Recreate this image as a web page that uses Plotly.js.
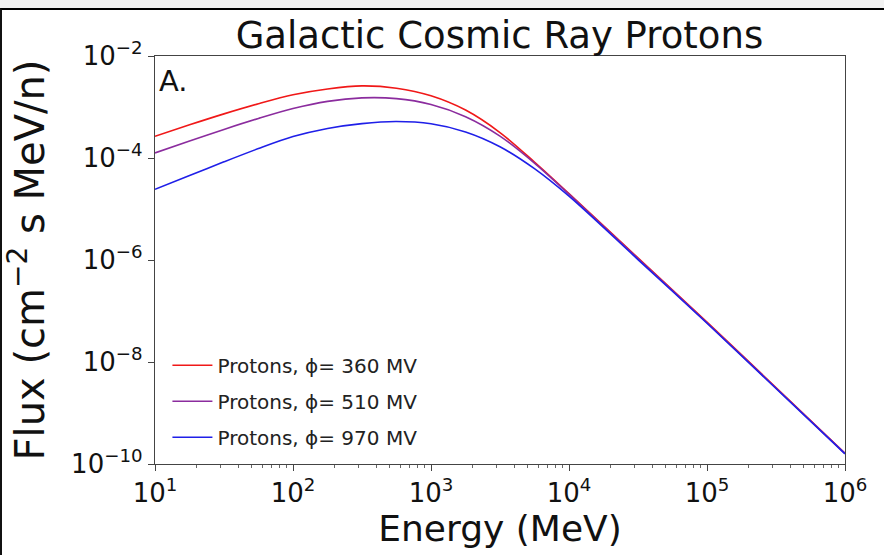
<!DOCTYPE html>
<html>
<head>
<meta charset="utf-8">
<script src="https://cdn.plot.ly/plotly-3.0.1.min.js"></script>
<style>
  html, body { margin: 0; padding: 0; background: #ffffff; }
  #wrap { position: relative; width: 884px; height: 555px; overflow: hidden; background: #ffffff; }
  #chart { position: absolute; left: 0; top: 0; width: 884px; height: 555px; }
  #topband { position: absolute; left: 0; top: 0; width: 884px; height: 8px; background: #f2f2f2; pointer-events: none; }
  #frame { position: absolute; left: 0; top: 8px; width: 884px; height: 547px; border-top: 2px solid #000; border-left: 2px solid #111; box-sizing: border-box; pointer-events: none; }
</style>
</head>
<body>
<div id="wrap">
  <div id="chart"></div>
  <div id="topband"></div>
  <div id="frame"></div>
</div>
<script>
// Energy (MeV)
const energy = [10, 17.8, 31.6, 56.2, 100, 178, 316, 562, 1000, 1780, 3160, 5620, 10000, 31600, 100000, 316000, 1000000];
// Flux (cm^-2 s MeV/n) for the three modulation potentials
const flux360 = [2.66e-4, 4.47e-4, 7.33e-4, 1.16e-3, 1.74e-3, 2.26e-3, 2.60e-3, 2.34e-3, 1.66e-3, 8.71e-4, 3.16e-4, 8.32e-5, 2.00e-5, 1.10e-6, 6.03e-8, 3.16e-9, 1.62e-10];
const flux510 = [1.26e-4, 2.16e-4, 3.63e-4, 5.96e-4, 9.33e-4, 1.29e-3, 1.51e-3, 1.46e-3, 1.12e-3, 6.46e-4, 2.69e-4, 7.94e-5, 1.95e-5, 1.07e-6, 5.89e-8, 3.09e-9, 1.62e-10];
const flux970 = [2.43e-5, 4.52e-5, 8.41e-5, 1.53e-4, 2.63e-4, 3.80e-4, 4.73e-4, 5.19e-4, 4.68e-4, 3.24e-4, 1.66e-4, 6.17e-5, 1.78e-5, 1.02e-6, 5.75e-8, 3.02e-9, 1.58e-10];
const seriesNames = ["Protons, \u03d5= 360 MV", "Protons, \u03d5= 510 MV", "Protons, \u03d5= 970 MV"];
const seriesColors = ["#f01818", "#8b2c9e", "#1f1fe8"];
const xTickVals = [10, 100, 1000, 10000, 100000, 1000000];
const xTickText = ["10<sup>1</sup>", "10<sup>2</sup>", "10<sup>3</sup>", "10<sup>4</sup>", "10<sup>5</sup>", "10<sup>6</sup>"];
const yTickVals = [1e-10, 1e-8, 1e-6, 1e-4, 1e-2];
const yTickText = ["10<sup>\u221210</sup>", "10<sup>\u22128</sup>", "10<sup>\u22126</sup>", "10<sup>\u22124</sup>", "10<sup>\u22122</sup>"];

const FONT = "DejaVu Sans, Liberation Sans, sans-serif";
const fluxes = [flux360, flux510, flux970];

const traces = fluxes.map((f, i) => ({
  x: energy,
  y: f,
  type: "scatter",
  mode: "lines",
  name: seriesNames[i],
  legendgroup: "g" + i,
  line: { color: seriesColors[i], width: 1.6, shape: "spline", smoothing: 0.9 }
}));

const layout = {
  width: 884,
  height: 555,
  paper_bgcolor: "#ffffff",
  plot_bgcolor: "#ffffff",
  margin: { l: 155, r: 39, t: 56, b: 91, pad: 0 },
  font: { family: FONT, color: "#111" },
  title: {
    text: "Galactic Cosmic Ray Protons",
    font: { family: FONT, size: 37, color: "#111" },
    x: 0.565, xanchor: "center",
    y: 0.937, yanchor: "middle", yref: "container"
  },
  xaxis: {
    type: "log",
    range: [1, 6],
    tickvals: xTickVals,
    ticktext: xTickText,
    tickfont: { family: FONT, size: 26, color: "#111" },
    ticks: "outside", ticklen: 6, tickcolor: "#444",
    minor: { ticks: "outside", ticklen: 3, tickcolor: "#666", dtick: "D1", showgrid: false },
    showgrid: false, zeroline: false,
    showline: true, linecolor: "#444", linewidth: 1.2, mirror: true,
    title: { text: "Energy (MeV)", font: { family: FONT, size: 36, color: "#111" }, standoff: 2 }
  },
  yaxis: {
    type: "log",
    range: [-10, -2],
    tickvals: yTickVals,
    ticktext: yTickText,
    tickfont: { family: FONT, size: 26, color: "#111" },
    ticks: "outside", ticklen: 6, tickcolor: "#444",
    showgrid: false, zeroline: false,
    showline: true, linecolor: "#444", linewidth: 1.2, mirror: true,
    title: { text: "Flux (cm<sup>\u22122</sup> s MeV/n)", font: { family: FONT, size: 40, color: "#111" }, standoff: 14 }
  },
  legend: {
    x: 0.018, y: 0.29, xanchor: "left", yanchor: "top",
    bgcolor: "rgba(255,255,255,0)",
    borderwidth: 0,
    font: { family: FONT, size: 20, color: "#222" },
    tracegroupgap: 7,
    itemwidth: 40
  },
  showlegend: true,
  annotations: [{
    text: "A.", xref: "paper", yref: "paper", x: 0.003, y: 0.985,
    xanchor: "left", yanchor: "top", showarrow: false,
    font: { family: FONT, size: 29, color: "#111" }
  }]
};

Plotly.newPlot("chart", traces, layout, { displayModeBar: false, staticPlot: true });
</script>
</body>
</html>
